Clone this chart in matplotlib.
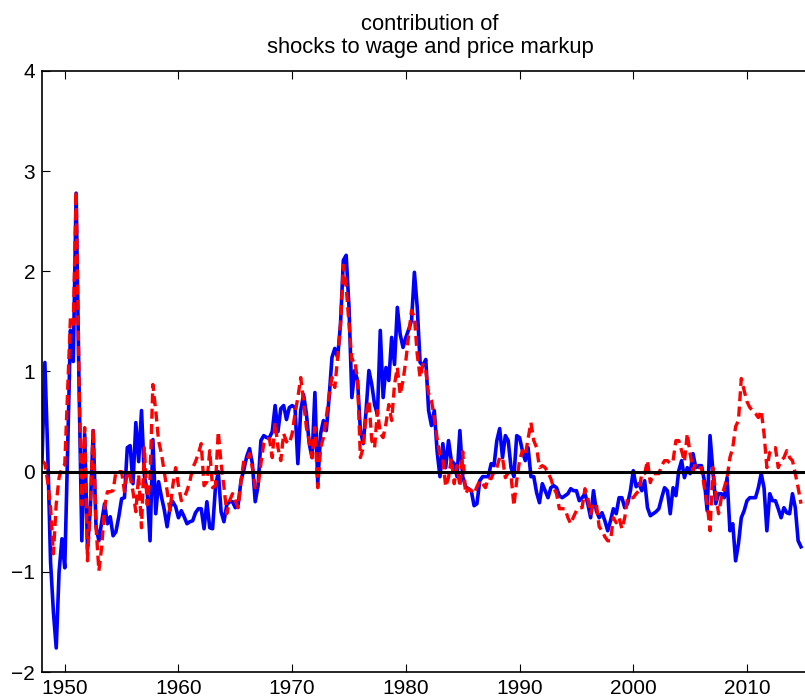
import matplotlib
matplotlib.use('Agg')
import matplotlib.pyplot as plt
import numpy as np

plt.rcParams['font.family'] = ['Liberation Sans', 'DejaVu Sans']

# quarterly data, 1948Q1 - 2014Q4
start_year = 1948

# blue solid line
wage_price = [
    0.10, 1.09, 0.20, -0.90,     # 1948
    -1.40, -1.76, -1.00, -0.67,  # 1949
    -0.96, 0.20, 1.41, 1.10,     # 1950
    2.78, 0.90, -0.69, 0.38,     # 1951
    -0.77, -0.36, 0.41, -0.55,   # 1952
    -0.69, -0.50, -0.32, -0.52,  # 1953
    -0.45, -0.64, -0.60, -0.45,  # 1954
    -0.27, -0.26, 0.24, 0.26,    # 1955
    -0.12, 0.49, 0.10, 0.61,     # 1956
    -0.04, -0.20, -0.69, 0.32,   # 1957
    -0.42, -0.10, -0.25, -0.38,  # 1958
    -0.55, -0.36, -0.30, -0.35,  # 1959
    -0.46, -0.39, -0.45, -0.52,  # 1960
    -0.50, -0.49, -0.41, -0.37,  # 1961
    -0.37, -0.57, -0.30, -0.56,  # 1962
    -0.57, -0.16, 0.00, -0.40,   # 1963
    -0.50, -0.33, -0.30, -0.30,  # 1964
    -0.36, -0.33, -0.09, 0.02,   # 1965
    0.15, 0.23, 0.08, -0.30,     # 1966
    -0.14, 0.31, 0.36, 0.34,     # 1967
    0.34, 0.40, 0.66, 0.40,      # 1968
    0.63, 0.66, 0.52, 0.64,      # 1969
    0.66, 0.64, 0.08, 0.61,      # 1970
    0.77, 0.58, 0.28, 0.14,      # 1971
    0.79, -0.12, 0.38, 0.51,     # 1972
    0.41, 0.74, 1.14, 1.23,      # 1973
    1.14, 1.47, 2.11, 2.16,      # 1974
    1.64, 0.74, 1.01, 0.91,      # 1975
    0.41, 0.28, 0.61, 1.01,      # 1976
    0.87, 0.67, 0.57, 1.41,      # 1977
    0.74, 1.04, 0.91, 1.34,      # 1978
    1.07, 1.64, 1.37, 1.24,      # 1979
    1.34, 1.42, 1.51, 1.99,      # 1980
    1.64, 1.09, 1.06, 1.12,      # 1981
    0.61, 0.46, 0.61, 0.20,      # 1982
    -0.05, 0.28, 0.04, 0.31,     # 1983
    0.11, 0.08, -0.05, 0.41,     # 1984
    -0.05, -0.15, -0.17, -0.19,  # 1985
    -0.34, -0.32, -0.09, -0.05,  # 1986
    -0.05, -0.05, 0.08, 0.06,    # 1987
    0.31, 0.43, 0.14, 0.36,      # 1988
    0.31, 0.04, -0.05, 0.36,     # 1989
    0.34, 0.21, 0.11, 0.24,      # 1990
    -0.05, -0.05, -0.21, -0.31,  # 1991
    -0.12, -0.19, -0.26, -0.16,  # 1992
    -0.14, -0.16, -0.24, -0.26,  # 1993
    -0.24, -0.22, -0.17, -0.19,  # 1994
    -0.19, -0.29, -0.26, -0.22,  # 1995
    -0.32, -0.46, -0.19, -0.39,  # 1996
    -0.46, -0.41, -0.49, -0.59,  # 1997
    -0.49, -0.37, -0.42, -0.26,  # 1998
    -0.26, -0.36, -0.32, -0.19,  # 1999
    0.01, -0.15, -0.12, -0.19,   # 2000
    -0.09, -0.36, -0.44, -0.42,  # 2001
    -0.40, -0.37, -0.26, -0.16,  # 2002
    -0.19, -0.42, -0.16, -0.24,  # 2003
    0.01, 0.11, -0.06, 0.04,     # 2004
    -0.02, 0.18, 0.04, 0.06,     # 2005
    0.06, -0.09, -0.39, 0.36,    # 2006
    0.01, -0.32, -0.22, -0.22,   # 2007
    -0.26, -0.06, -0.59, -0.52,  # 2008
    -0.89, -0.72, -0.46, -0.39,  # 2009
    -0.29, -0.26, -0.26, -0.26,  # 2010
    -0.16, -0.02, -0.16, -0.59,  # 2011
    -0.22, -0.29, -0.29, -0.37,  # 2012
    -0.46, -0.36, -0.41, -0.42,  # 2013
    -0.22, -0.36, -0.69, -0.75,  # 2014
]

# red dashed line
wage_price_alt = [
    0.11, 0.08, -0.10, -0.36,    # 1948
    -0.82, -0.32, -0.06, 0.04,   # 1949
    0.07, 0.80, 1.54, 1.47,      # 1950
    2.80, 0.93, -0.33, 0.44,     # 1951
    -0.89, -0.32, 0.43, -0.55,   # 1952
    -0.99, -0.75, -0.36, -0.20,  # 1953
    -0.20, -0.19, 0.00, 0.00,    # 1954
    0.00, -0.20, 0.00, -0.05,    # 1955
    -0.20, -0.40, -0.03, -0.56,  # 1956
    0.24, -0.33, -0.06, 0.87,    # 1957
    0.61, 0.31, 0.18, 0.00,      # 1958
    -0.19, -0.39, -0.14, 0.04,   # 1959
    -0.14, -0.29, -0.26, -0.19,  # 1960
    -0.10, 0.04, 0.10, 0.18,     # 1961
    0.28, -0.14, -0.10, 0.21,    # 1962
    -0.16, -0.14, 0.40, 0.08,    # 1963
    -0.15, -0.42, -0.29, -0.22,  # 1964
    -0.29, -0.36, -0.09, 0.11,   # 1965
    0.11, 0.18, 0.04, -0.16,     # 1966
    -0.14, 0.08, 0.28, 0.33,     # 1967
    0.33, 0.14, 0.49, 0.24,      # 1968
    0.11, 0.38, 0.30, 0.28,      # 1969
    0.38, 0.58, 0.74, 0.94,      # 1970
    0.71, 0.44, 0.31, 0.14,      # 1971
    0.44, -0.16, 0.24, 0.34,     # 1972
    0.54, 0.77, 0.94, 0.84,      # 1973
    1.14, 1.47, 2.06, 1.84,      # 1974
    1.47, 1.11, 1.12, 0.91,      # 1975
    0.14, 0.24, 0.58, 0.71,      # 1976
    0.31, 0.24, 0.61, 0.38,      # 1977
    0.34, 0.48, 0.67, 0.51,      # 1978
    0.87, 1.04, 0.77, 0.91,      # 1979
    1.11, 1.37, 1.61, 1.54,      # 1980
    1.17, 0.94, 1.07, 1.01,      # 1981
    0.78, 0.71, 0.54, 0.33,      # 1982
    0.16, 0.13, -0.15, -0.06,    # 1983
    0.13, -0.12, 0.06, -0.15,    # 1984
    0.20, -0.22, -0.17, -0.19,   # 1985
    -0.22, -0.15, -0.09, -0.12,  # 1986
    -0.16, -0.06, -0.07, 0.00,   # 1987
    0.04, 0.14, 0.14, -0.06,     # 1988
    -0.01, -0.04, -0.34, -0.09,  # 1989
    0.11, 0.21, 0.16, 0.33,      # 1990
    0.49, 0.31, 0.24, 0.04,      # 1991
    0.06, 0.04, -0.01, -0.07,    # 1992
    -0.16, -0.22, -0.37, -0.37,  # 1993
    -0.37, -0.46, -0.52, -0.45,  # 1994
    -0.39, -0.36, -0.36, -0.17,  # 1995
    -0.26, -0.42, -0.32, -0.32,  # 1996
    -0.55, -0.59, -0.65, -0.69,  # 1997
    -0.69, -0.46, -0.51, -0.46,  # 1998
    -0.57, -0.46, -0.26, -0.26,  # 1999
    -0.26, -0.22, -0.19, -0.02,  # 2000
    -0.02, 0.11, -0.11, -0.02,   # 2001
    -0.02, -0.02, 0.06, 0.11,    # 2002
    0.11, 0.08, 0.11, 0.31,      # 2003
    0.31, 0.21, 0.10, 0.38,      # 2004
    0.18, 0.01, 0.08, 0.04,      # 2005
    0.04, -0.16, -0.32, -0.59,   # 2006
    0.04, -0.22, -0.42, -0.26,   # 2007
    -0.16, -0.06, 0.14, 0.24,    # 2008
    0.45, 0.51, 0.93, 0.81,      # 2009
    0.70, 0.64, 0.61, 0.58,      # 2010
    0.54, 0.61, 0.38, 0.04,      # 2011
    0.19, 0.22, 0.24, 0.04,      # 2012
    0.11, 0.14, 0.21, 0.14,      # 2013
    0.11, -0.02, -0.16, -0.32,   # 2014
]

x_ticks = [1950, 1960, 1970, 1980, 1990, 2000, 2010]
y_ticks = [-2, -1, 0, 1, 2, 3, 4]

t = start_year + np.arange(len(wage_price)) / 4.0

fig = plt.figure(figsize=(8.05, 7.0), dpi=100)
# axes runs a bit past the right edge (figure is cropped there)
ax = fig.add_axes([0.0522, 0.04, 0.964, 0.8586])

ax.plot(t, wage_price, color='b', lw=2.6, solid_joinstyle='round')
ax.plot(t, wage_price_alt, color='r', lw=2.4, linestyle=(0, (3, 1.6)))
ax.axhline(0, color='k', lw=2.2)

ax.set_xlim(1948, 2016.25)
ax.set_ylim(-2, 4)
ax.set_xticks(x_ticks)
ax.set_yticks(y_ticks)
ax.tick_params(direction='in', length=5.5, width=0.8, labelsize=15,
               top=True, right=True, pad=5)
for s in ax.spines.values():
    s.set_linewidth(1.2)

ax.set_title('contribution of\nshocks to wage and price markup',
             fontsize=15.8, pad=13, linespacing=1.1)

fig.savefig('out.png', dpi=100)
